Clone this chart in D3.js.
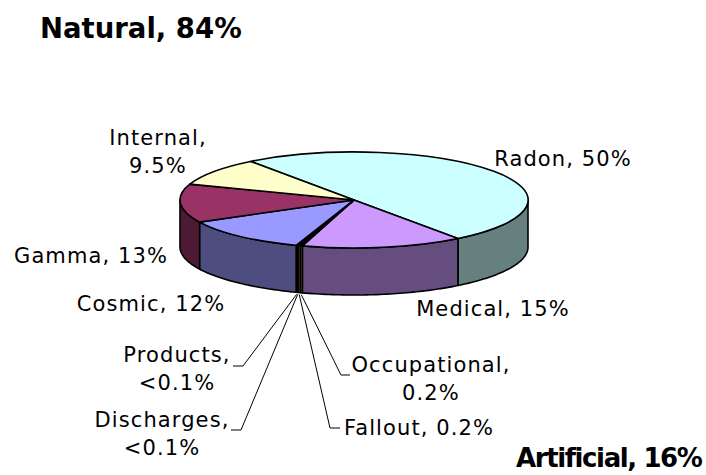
<!DOCTYPE html>
<html>
<head>
<meta charset="utf-8">
<script src="https://cdn.jsdelivr.net/npm/d3@7"></script>
<style>
  body { margin: 0; background: #fff; }
  svg text { font-family: "DejaVu Sans", Verdana, sans-serif; fill: #000; }
</style>
</head>
<body>
<svg id="chart" width="706" height="475"></svg>
<script>
// Sources of radiation dose, clockwise from the Internal/Radon edge
const sources = ["Radon", "Medical", "Occupational", "Fallout", "Discharges", "Products", "Cosmic", "Gamma", "Internal"];
const shares = [50, 15, 0.2, 0.2, 0.1, 0.1, 12, 13, 9.5];
const shareLabels = ["50%", "15%", "0.2%", "0.2%", "<0.1%", "<0.1%", "12%", "13%", "9.5%"];
const sliceColours = ["#CCFFFF", "#CC99FF", "#FF9999", "#99CC00", "#1a1a1a", "#FFFF00", "#9999FF", "#993366", "#FFFFCC"];
const groupNames = ["Natural", "Artificial"];
const groupShares = ["84%", "16%"];

// label placement (centre x, first baseline, one or two lines, optional leader elbow)
const labelLayout = [
  { x: 563, y: 166, split: false },
  { x: 493, y: 316, split: false },
  { x: 431, y: 372, split: true,  elbow: [341, 375], end: 350 },
  { x: 419, y: 435, split: false, elbow: [330, 428], end: 340 },
  { x: 162, y: 427, split: true,  elbow: [241, 430], end: 231 },
  { x: 177, y: 362, split: true,  elbow: [243, 366], end: 233 },
  { x: 151, y: 311, split: false },
  { x: 91,  y: 263, split: false },
  { x: 158, y: 145, split: true }
];

const data = sources.map((s, i) => ({ name: s, share: shares[i], label: shareLabels[i], colour: sliceColours[i] }));

const svg = d3.select("#chart");
const cx = 354, cy = 200, rx = 174, ry = 48, depth = 47;
const startAngle = -36.5 * Math.PI / 180;

const pie = d3.pie().sort(null).value(d => d.share)
  .startAngle(startAngle).endAngle(startAngle + 2 * Math.PI);
const slices = pie(data);

// point on the rim for a pie angle (0 = 12 o'clock, clockwise)
const proj = (a, dz = 0) => [cx + rx * Math.sin(a), cy - ry * Math.cos(a) + dz];
const shade = c => { const k = d3.rgb(c); return d3.rgb(k.r * 0.5, k.g * 0.5, k.b * 0.5).formatHex(); };
const line = d3.line();

function wall(a0, a1) {
  const n = Math.max(2, Math.ceil((a1 - a0) / 0.02));
  const top = d3.range(n + 1).map(i => proj(a0 + (a1 - a0) * i / n));
  const bot = top.slice().reverse().map(p => [p[0], p[1] + depth]);
  return line(top.concat(bot)) + "Z";
}

// front walls (only the part between 3 and 9 o'clock is visible)
const front = slices.map(s => ({ s, a0: Math.max(s.startAngle, Math.PI / 2), a1: Math.min(s.endAngle, 3 * Math.PI / 2) }))
  .filter(d => d.a1 > d.a0);

svg.append("g")
  .selectAll("path")
  .data(front)
  .join("path")
    .attr("d", d => wall(d.a0, d.a1))
    .attr("fill", d => shade(d.s.data.colour))
    .attr("stroke", "#000")
    .attr("stroke-width", 1.6)
    .attr("stroke-linejoin", "round");

// top face: a circle pie squashed into an ellipse
const arc = d3.arc().innerRadius(0).outerRadius(rx);
svg.append("g")
  .attr("transform", `translate(${cx},${cy}) scale(1,${ry / rx})`)
  .selectAll("path")
  .data(slices)
  .join("path")
    .attr("d", arc)
    .attr("fill", d => d.data.colour)
    .attr("stroke", "#000")
    .attr("stroke-width", 1.6)
    .attr("stroke-linejoin", "round")
    .attr("vector-effect", "non-scaling-stroke");

// leader lines for the tiny slices
slices.forEach((s, i) => {
  const L = labelLayout[i];
  if (!L.elbow) return;
  const a = (s.startAngle + s.endAngle) / 2;
  const p = proj(a, depth + 2);
  svg.append("path")
    .attr("d", line([p, L.elbow, [L.end, L.elbow[1]]]))
    .attr("fill", "none")
    .attr("stroke", "#000")
    .attr("stroke-width", 1);
});

// slice labels
slices.forEach((s, i) => {
  const L = labelLayout[i];
  const lines = L.split ? [s.data.name + ",", s.data.label] : [s.data.name + ", " + s.data.label];
  const t = svg.append("text")
    .attr("text-anchor", "middle")
    .style("font-size", "21px")
    .style("letter-spacing", "1.1px");
  lines.forEach((ln, j) => {
    t.append("tspan").attr("x", L.x).attr("y", L.y + j * 28).text(ln);
  });
});

// group totals
svg.append("text")
  .attr("x", 40).attr("y", 38)
  .style("font-size", "27.5px").style("font-weight", "bold")
  .text(groupNames[0] + ", " + groupShares[0]);
svg.append("text")
  .attr("x", 516).attr("y", 467)
  .style("font-size", "26px").style("font-weight", "bold")
  .style("letter-spacing", "-1.4px")
  .text(groupNames[1] + ", " + groupShares[1]);
</script>
</body>
</html>
